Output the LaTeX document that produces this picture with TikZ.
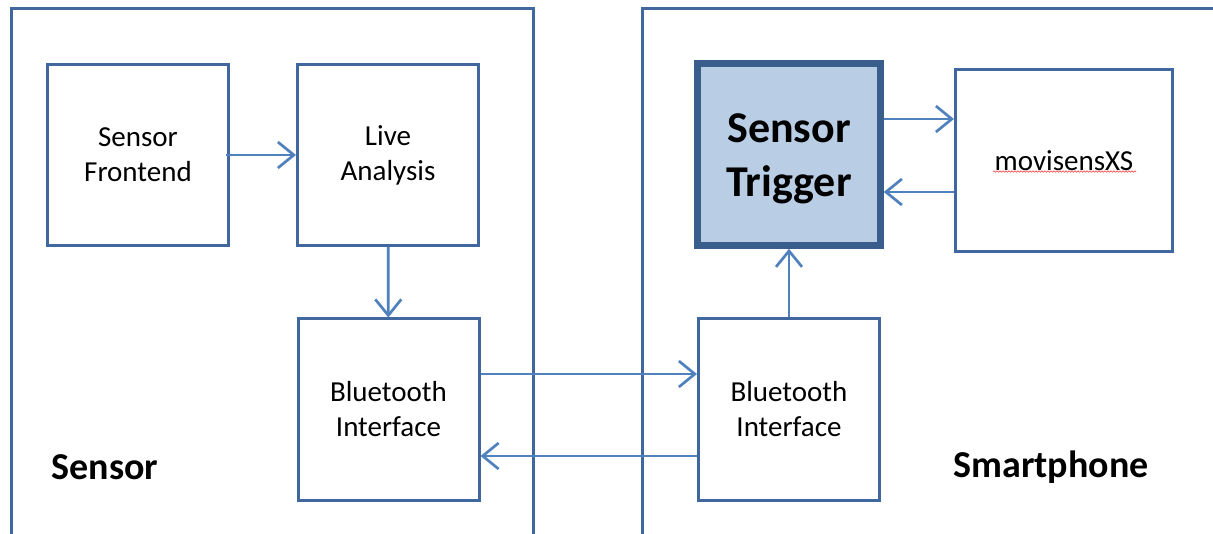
\documentclass[tikz,border=0pt]{standalone}
\usepackage{fontspec}
\setmainfont{Carlito}
\usetikzlibrary{arrows.meta, decorations.pathmorphing}
\definecolor{frameblue}{RGB}{64,104,158}
\definecolor{linkblue}{RGB}{79,129,189}
\definecolor{trigfill}{RGB}{185,205,228}
\definecolor{trigline}{RGB}{57,94,140}

\begin{document}
\begin{tikzpicture}[x=1pt,y=-1pt,>={Straight Barb[length=16pt,width=26pt]},
  block/.style={draw=frameblue,line width=3pt,minimum width=181pt,minimum height=181pt,
    align=center,font=\fontsize{29}{35}\selectfont},
  link/.style={->,draw=linkblue,line width=2.7pt},
  side/.style={font=\bfseries\fontsize{38}{44}\selectfont}]

  \useasboundingbox (0,0) rectangle (1213,534);
  \clip (0,0) rectangle (1213,534);

  % the two devices
  \draw[frameblue,line width=3pt] (11,560) -- (11,9) -- (533,9) -- (533,560);
  \draw[frameblue,line width=3pt] (642,560) -- (642,9) -- (1240,9);

  \node[block] (front) at (138,155) {Sensor\\Frontend};
  \node[block] (live) at (388,155) {Live\\Analysis};
  \node[block] (btl) at (388.5,409.5) {Bluetooth\\Interface};
  \node[block] (btr) at (789,409.5) {Bluetooth\\Interface};
  \node[block,draw=trigline,fill=trigfill,line width=6.5pt,minimum width=183pt,minimum height=182pt,
    label={[yshift=-4.5pt,align=center,font=\bfseries\fontsize{44}{54}\selectfont]center:Sensor\\Trigger}]
    (trig) at (789,154.5) {};
  \node[block,minimum width=217pt,minimum height=182pt] (mov) at (1064,160.5) {movisensXS};

  \node[side] (sensorlbl) at (105,467) {Sensor};
  \node[side] (phonelbl) at (1051,467) {Smartphone};

  % spell check mark
  \draw[red!80,line width=0.6pt,decorate,decoration={snake,amplitude=0.7pt,segment length=3pt}]
    ([xshift=-71pt,yshift=-11pt]mov.center) -- ([xshift=72pt,yshift=-11pt]mov.center);

  \draw[link] ([xshift=-4pt]front.east) -- (live);
  \draw[link] (live) -- (btl);
  \draw[link] ([yshift=35.5pt]btl.east) -- ([yshift=35.5pt]btr.west);
  \draw[link] ([yshift=-46.5pt]btr.west) -- ([yshift=-46.5pt]btl.east);
  \draw[link] (btr) -- (trig);
  \draw[link] ([yshift=35.5pt]trig.east) -- ([yshift=35.5pt]trig.east -| mov.west);
  \draw[link] ([yshift=-37.5pt]trig.east -| mov.west) -- ([yshift=-37.5pt]trig.east);
\end{tikzpicture}
\end{document}
